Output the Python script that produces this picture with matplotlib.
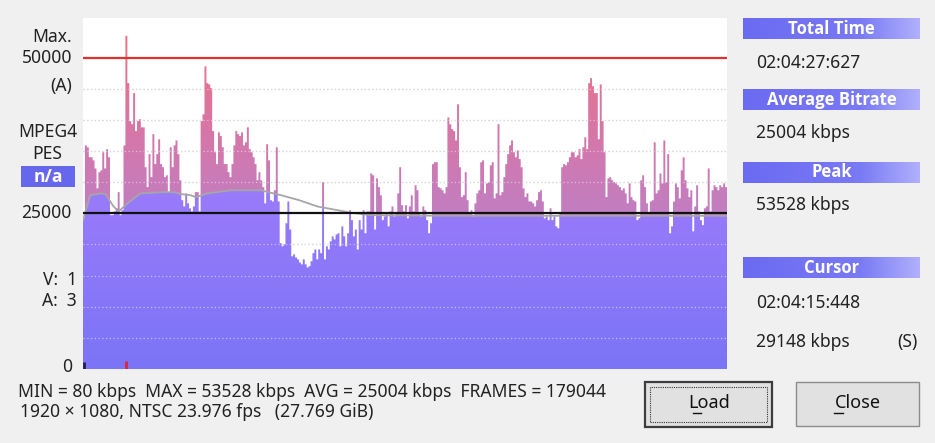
import numpy as np
import matplotlib
matplotlib.use('Agg')
import matplotlib.pyplot as plt
from matplotlib.colors import LinearSegmentedColormap
from matplotlib.path import Path
from matplotlib.patches import Rectangle
from matplotlib.lines import Line2D

# %% data (bitrate in 1000 kbps, one value per time slice)
total_min = 124.46  # 02:04:27:627

rate_k = [
    24.2, 35.9, 35.6, 34.0, 34.0, 33.5, 32.2, 29.0, 31.6, 31.9, 34.8, 32.2, 35.3, 34.0, 24.7, 24.7,
    25.3, 25.8, 28.4, 24.7, 25.5, 35.9, 53.5, 45.9, 39.8, 39.3, 44.3, 38.2, 39.8, 40.1, 38.8, 38.8,
    32.4, 29.2, 34.5, 30.8, 37.7, 32.9, 34.5, 36.9, 32.9, 32.4, 30.8, 31.1, 28.4, 35.6, 32.4, 35.9,
    36.7, 34.5, 30.3, 27.1, 26.1, 28.2, 26.6, 25.8, 25.3, 26.1, 28.4, 28.4, 25.3, 39.8, 40.9, 48.6,
    45.9, 45.7, 45.1, 38.2, 34.8, 32.9, 38.0, 37.4, 35.6, 32.9, 32.9, 31.6, 30.8, 32.9, 35.9, 38.2,
    37.7, 37.4, 38.0, 35.9, 36.4, 38.8, 35.3, 34.8, 34.0, 32.9, 30.3, 31.6, 30.3, 29.2, 26.6, 36.1,
    33.5, 27.1, 26.9, 28.7, 35.6, 26.9, 20.2, 19.7, 20.0, 23.4, 26.9, 22.4, 18.1, 18.4, 17.9, 17.6,
    17.1, 16.8,
    17.6, 16.8, 16.3, 16.5, 17.3, 18.6, 19.2, 17.6, 19.2, 18.6, 30.0, 17.6, 19.7, 19.2, 20.5, 21.3,
    20.8, 21.6, 21.8, 19.7, 22.9, 21.3, 19.7, 21.8, 25.5, 23.9, 21.3, 22.4, 19.2, 23.9, 22.4, 25.5,
    21.8, 25.3, 25.3, 31.4, 31.1, 22.4, 30.6, 29.2, 27.9, 23.9, 24.5, 25.0, 22.9, 25.3, 26.1, 24.5,
    25.0, 28.2, 32.4, 26.3, 25.3, 26.3, 24.2, 26.1, 27.9, 25.3, 29.5, 28.7, 25.0, 24.5, 26.1, 25.5,
    23.9, 21.8, 23.4, 32.9, 33.2, 33.2, 29.2, 29.0, 28.7, 28.2, 29.2, 40.4, 39.3, 38.5, 38.2, 36.7,
    42.5, 32.4, 27.6, 27.9, 31.6, 27.1, 25.0, 25.5, 24.5, 26.6, 28.2, 28.7, 33.2, 33.5, 28.2, 29.8,
    30.0, 32.7, 33.2, 27.4, 28.2, 39.3, 27.9, 28.4, 30.8, 32.9, 34.5, 35.9, 36.7, 34.8, 34.0,
    35.1, 33.7, 32.4, 29.0, 27.6, 28.2, 26.9, 26.9, 26.6, 26.1, 27.1, 28.4, 28.7, 26.9, 24.2, 24.5,
    23.9, 25.8, 23.9, 24.5, 22.9, 22.6, 25.0, 32.4, 32.9, 32.7, 33.2, 34.0, 34.8, 34.8, 34.0, 34.3,
    35.3, 33.7, 35.6, 37.2, 35.3, 45.9, 46.7, 45.4, 44.3, 44.3, 36.9, 45.7, 39.8, 34.8, 27.6, 30.6,
    30.8, 30.3, 30.0, 29.8, 29.5, 29.2, 28.7, 29.0, 28.2, 26.6, 29.8, 27.6, 27.1, 26.9, 23.9, 24.2,
    30.3, 31.1, 29.2, 26.6, 25.0, 26.9, 27.1, 36.4, 28.2, 28.7, 31.4, 29.8, 36.7, 30.0, 34.5, 21.8,
    22.9, 26.9, 29.8, 29.2, 27.4, 31.9, 34.0, 30.3, 29.0, 27.6, 28.7, 22.1, 26.1, 29.5, 25.3, 23.9,
    23.1, 25.8, 26.1, 32.2, 25.3, 28.7, 29.5, 29.2, 28.7, 29.5, 29.2, 29.8, 29.2,
]

# running average (grey curve)
avg_t = [0, 1.4, 3.4, 4.3, 5.9, 6.9, 8.6, 11.1, 15.6, 17.5, 18.9, 20.8, 21.8, 24.1, 28.6,
         34.4, 35.8, 38.3, 41.8, 45.3, 49.2, 51.7, 55.6, 70, 90, 110, 124.46]
avg_v = [23.9, 27.9, 28.2, 28.1, 26.1, 25.3, 26.6, 28.2, 28.4, 28.4, 28.1, 27.9, 27.6, 28.2, 28.7,
         28.7, 28.4, 27.9, 27.1, 26.1, 25.5, 25.1, 24.7, 24.6, 24.6, 24.6, 24.6]

max_line = 50.0
avg_bitrate = 25.004
grid_levels = [5, 10, 15, 20, 30, 35, 40, 45]

W, H = 935, 443
BG = '#f0f0f0'
FONT = 'Noto Sans'
BOLD = 'Open Sans'


def fx(x):
    return x / W


def fy(y):
    return 1 - y / H


fig = plt.figure(figsize=(W / 100, H / 100), dpi=100, facecolor=BG)
ax = fig.add_axes([fx(83), fy(369), (727 - 83) / W, (369 - 18) / H])
ax.set_facecolor('white')
for s in ax.spines.values():
    s.set_visible(False)
ax.set_xticks([])
ax.set_yticks([])

rate = np.array(rate_k)
n = len(rate)
w = total_min / n
x = np.arange(n) * w
g = np.interp(x + w / 2, avg_t, avg_v)
low = np.minimum(rate, g)
hi_mask = rate > g

# grid under bars
for lv in grid_levels:
    ax.axhline(lv, color='#b4b4b4', lw=0.9, ls=(0, (1, 2)), zorder=0.5)

purple_bars = ax.bar(x, low, width=w, align='edge', color='none', linewidth=0)
pink_bars = ax.bar(x[hi_mask], (rate - g)[hi_mask], bottom=g[hi_mask], width=w, align='edge',
                   color='none', linewidth=0)


def bars_path(bars):
    return Path.make_compound_path(*[r.get_path().transformed(r.get_patch_transform()) for r in bars])


grad = np.linspace(0, 1, 256).reshape(-1, 1)
purple_cmap = LinearSegmentedColormap.from_list('pur', ['#7b74f6', '#9a7bfb'])
pink_cmap = LinearSegmentedColormap.from_list('pink', ['#bf7fc4', '#d876a6', '#f0707f'])
im1 = ax.imshow(grad, extent=(0, total_min, 0, 29.5), origin='lower', aspect='auto',
                cmap=purple_cmap, zorder=1)
im1.set_clip_path(bars_path(purple_bars), ax.transData)
im2 = ax.imshow(grad, extent=(0, total_min, 24, 54), origin='lower', aspect='auto',
                cmap=pink_cmap, zorder=1)
im2.set_clip_path(bars_path(pink_bars), ax.transData)

# grid over bars
for lv in grid_levels:
    ax.axhline(lv, color='white', alpha=0.5, lw=0.9, ls=(0, (1, 2)), zorder=2)

ax.plot(avg_t, avg_v, color='#a6a6a6', lw=1.3, zorder=3)
ax.axhline(max_line, color='#e2302c', lw=1.6, zorder=3)
ax.axhline(avg_bitrate, color='#111111', lw=1.6, zorder=3)

# position markers at the bottom
peak_i = int(np.argmax(rate))
ax.vlines([0.15], 0, 1.2, color='#1e1e50', lw=2, zorder=4)
ax.vlines([x[peak_i] + w / 2], 0, 1.3, color='#e0203c', lw=2, zorder=4)

ax.set_xlim(0, total_min)
ax.set_ylim(0, 56.36)

# left labels
fs = 12.6
TXT = '#222222'
fig.text(fx(72), fy(37), 'Max.', ha='right', va='center', fontsize=fs, family=FONT, color=TXT)
fig.text(fx(72), fy(58), '50000', ha='right', va='center', fontsize=fs, family=FONT, color=TXT)
fig.text(fx(72), fy(86), '(A)', ha='right', va='center', fontsize=fs, family=FONT, color=TXT)
fig.text(fx(47.5), fy(132), 'MPEG4', ha='center', va='center', fontsize=fs, family=FONT, color=TXT)
fig.text(fx(47.5), fy(154), 'PES', ha='center', va='center', fontsize=fs, family=FONT, color=TXT)
fig.add_artist(Rectangle((fx(21), fy(187)), 54 / W, 21 / H, transform=fig.transFigure,
                         facecolor='#6767ee', edgecolor='none'))
fig.text(fx(48), fy(176.5), 'n/a', ha='center', va='center', fontsize=fs, family=BOLD,
         color='white', fontweight='bold')
fig.text(fx(72), fy(212.5), '25000', ha='right', va='center', fontsize=fs, family=FONT, color=TXT)
fig.text(fx(77), fy(280), 'V:  1', ha='right', va='center', fontsize=fs, family=FONT, color=TXT)
fig.text(fx(77), fy(301.5), 'A:  3', ha='right', va='center', fontsize=fs, family=FONT, color=TXT)
fig.text(fx(72), fy(367), '0', ha='right', va='center', fontsize=fs, family=FONT, color=TXT)

# bottom info
fig.text(fx(18), fy(392), 'MIN = 80 kbps  MAX = 53528 kbps  AVG = 25004 kbps  FRAMES = 179044',
         ha='left', va='center', fontsize=fs, family=FONT, color=TXT)
fig.text(fx(20), fy(412), '1920 \u00d7 1080, NTSC 23.976 fps   (27.769 GiB)',
         ha='left', va='center', fontsize=fs, family=FONT, color=TXT)

# right panel
hgrad = np.linspace(0, 1, 256).reshape(1, -1)
head_cmap = LinearSegmentedColormap.from_list('head', ['#6b6bf2', '#7272f3', '#7a7af5', '#b0b0fc'])
headers = [('Total Time', 18.3), ('Average Bitrate', 89.3), ('Peak', 161.7), ('Cursor', 257.3)]
for label, top in headers:
    hax = fig.add_axes([fx(743), fy(top + 21), 177 / W, 21 / H])
    hax.imshow(hgrad, aspect='auto', cmap=head_cmap, extent=(0, 1, 0, 1))
    hax.set_axis_off()
    hax.text(0.5, 0.5, label, ha='center', va='center', fontsize=fs - 0.6, family=BOLD,
             color='white', fontweight='bold', transform=hax.transAxes)

values = [('02:04:27:627', 63.3), ('25004 kbps', 132.7), ('53528 kbps', 205),
          ('02:04:15:448', 302.7), ('29148 kbps', 341.7)]
for txt, yy in values:
    fig.text(fx(756), fy(yy), txt, ha='left', va='center', fontsize=fs, family=FONT, color=TXT)
fig.text(fx(918), fy(341.7), '(S)', ha='right', va='center', fontsize=fs, family=FONT, color=TXT)

# buttons
fig.add_artist(Rectangle((fx(645), fy(427)), 127 / W, 45 / H, transform=fig.transFigure,
                         facecolor='#e1e1e1', edgecolor='#3c3c3c', lw=1.6))
fig.add_artist(Rectangle((fx(650), fy(422)), 117 / W, 35 / H, transform=fig.transFigure,
                         facecolor='none', edgecolor='#333', lw=0.8, ls=(0, (1, 1))))
fig.add_artist(Rectangle((fx(796), fy(426)), 123 / W, 44 / H, transform=fig.transFigure,
                         facecolor='#e1e1e1', edgecolor='#8c8c8c', lw=1.0))
fig.text(fx(709), fy(403.5), 'Load', ha='center', va='center', fontsize=fs + 0.4, family=FONT,
         color='#111')
fig.text(fx(857.5), fy(403.5), 'Close', ha='center', va='center', fontsize=fs + 0.4, family=FONT,
         color='#111')
fig.add_artist(Line2D([fx(693), fx(701)], [fy(412.5), fy(412.5)], transform=fig.transFigure,
                      color='#111', lw=1))
fig.add_artist(Line2D([fx(834), fx(843)], [fy(412.5), fy(412.5)], transform=fig.transFigure,
                      color='#111', lw=1))

fig.savefig('out.png', dpi=100, facecolor=BG)
